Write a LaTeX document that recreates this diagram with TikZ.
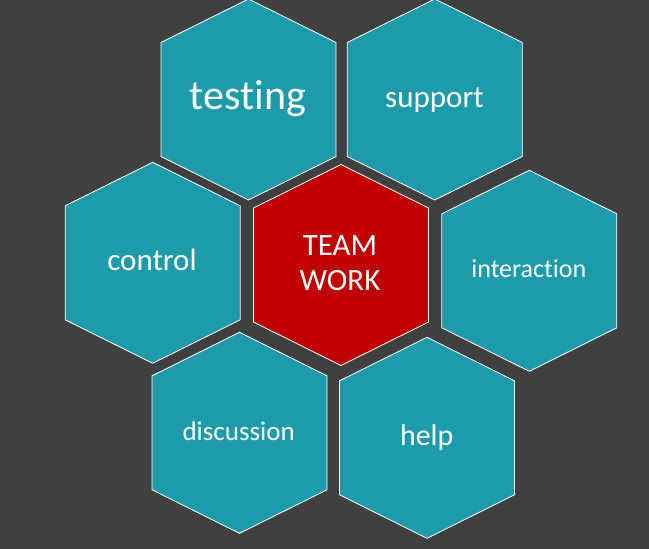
\documentclass[tikz,border=0pt]{standalone}
\usepackage{fontspec}
\setmainfont{Carlito}[Ligatures={NoCommon,NoContextual}]
\definecolor{bgdark}{RGB}{64,64,64}
\definecolor{hexteal}{RGB}{30,155,170}
\definecolor{hexred}{RGB}{192,0,0}
\tikzset{
  hexcell/.style={draw=white, line width=0.8pt, line join=miter},
  lab/.style={text=white, inner sep=0pt, anchor=base},
}
\newcommand{\hexagonat}[3]{%
  \path[hexcell, fill=#3] (#1,#2) ++(0,-100.5) -- ++(87.5,43.5) -- ++(0,114) -- ++(-87.5,43.5) -- ++(-87.5,-43.5) -- ++(0,-114) -- cycle;%
}
\begin{document}
\begin{tikzpicture}[x=1pt,y=-1pt]
\fill[bgdark] (0,0) rectangle (649,549);
\useasboundingbox (0,0) rectangle (649,549);
% hexagons
\hexagonat{248.5}{99.5}{hexteal}
\hexagonat{434.8}{99.5}{hexteal}
\hexagonat{152.7}{262.8}{hexteal}
\hexagonat{341}{265}{hexred}
\hexagonat{529.3}{270.8}{hexteal}
\hexagonat{239.5}{432.8}{hexteal}
\hexagonat{427}{437.8}{hexteal}
% labels
\node[lab, font=\fontsize{42}{48}\selectfont] (testing) at (248,109) {testing};
\node[lab, font=\fontsize{31}{37}\selectfont] (support) at (434.5,107.3) {support};
\node[lab, font=\fontsize{31}{37}\selectfont] (control) at (152,270.7) {control};
\node[text=white, inner sep=0pt, anchor=center, align=center, font=\fontsize{31}{35}\selectfont] (team) at (340,263) {TEAM\\WORK};
\node[lab, font=\fontsize{26}{31}\selectfont] (interaction) at (528.8,277.3) {interaction};
\node[lab, font=\fontsize{27}{32}\selectfont] (discussion) at (238.7,440) {discussion};
\node[lab, font=\fontsize{30}{36}\selectfont] (help) at (426.7,445) {help};
\end{tikzpicture}
\end{document}
